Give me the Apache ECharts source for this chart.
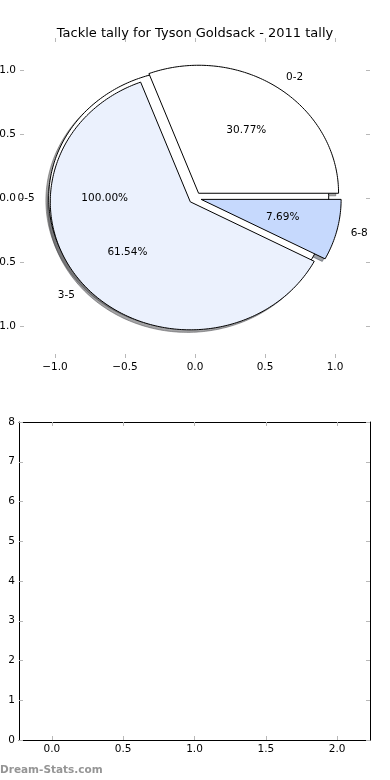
<!DOCTYPE html>
<html>
<head>
<meta charset="utf-8">
<script src="https://cdn.jsdelivr.net/npm/echarts@6/dist/echarts.min.js"></script>
<style>
html,body{margin:0;padding:0;background:#fff;}
#c{width:390px;height:780px;}
</style>
</head>
<body>
<div id="c"></div>
<script>
const chartTitle = 'Tackle tally for Tyson Goldsack - 2011 tally';
const watermark = 'Dream-Stats.com';
// first (background) pie: one wedge
const outerLabels = ['0-5'];
const outerValues = [13];
const outerColors = ['#ffffff'];
// second pie drawn on top
const categories = ['0-2', '3-5', '6-8'];
const values = [4, 8, 1];
const sliceColors = ['#ffffff', '#ebf1fd', '#c6d9fd'];
// axis ticks
const pieTicks = [-1, -0.5, 0, 0.5, 1];
const barXTicks = [0, 0.5, 1, 1.5, 2];
const barYTicks = [0, 1, 2, 3, 4, 5, 6, 7, 8];

const EXPLODE = 0.045, LABEL_DIST = 1.1, PCT_DIST = 0.6, SHADOW = 0.02;
const FONT = 'DejaVu Sans';
const FS = 10.5;
const TICK = '#b8b8b8';

function buildWedges(labels, vals, colors) {
  const total = vals.reduce((a, b) => a + b, 0);
  let t = 0;
  return vals.map((v, i) => {
    const t1 = t, t2 = t + 360 * v / total;
    t = t2;
    return { name: labels[i], t1, t2, pct: v / total, color: colors[i] };
  });
}
const wedges = buildWedges(outerLabels, outerValues, outerColors)
  .concat(buildWedges(categories, values, sliceColors));

function wedgePoints(w, dx, dy) {
  const mid = (w.t1 + w.t2) / 2 * Math.PI / 180;
  const cx = EXPLODE * Math.cos(mid) + dx, cy = EXPLODE * Math.sin(mid) + dy;
  const pts = [];
  const full = (w.t2 - w.t1) >= 359.999;
  if (!full) pts.push([cx, cy]);
  const n = Math.max(6, Math.ceil((w.t2 - w.t1) / 1));
  for (let k = 0; k <= n; k++) {
    const a = (w.t1 + (w.t2 - w.t1) * k / n) * Math.PI / 180;
    pts.push([cx + Math.cos(a), cy + Math.sin(a)]);
  }
  return pts;
}
function shade(hex) {
  const r = parseInt(hex.slice(1, 3), 16), g = parseInt(hex.slice(3, 5), 16), b = parseInt(hex.slice(5, 7), 16);
  return 'rgba(' + Math.round(r * 0.3) + ',' + Math.round(g * 0.3) + ',' + Math.round(b * 0.3) + ',0.5)';
}
const fmt1 = v => (v < 0 ? '\u2212' : '') + Math.abs(v).toFixed(1);

function axisCommon(extra) {
  return Object.assign({
    type: 'value',
    axisLine: { show: false, onZero: false },
    splitLine: { show: false },
    axisTick: { show: true, inside: true, length: 4, lineStyle: { color: TICK, width: 1 } },
    axisLabel: { show: true, fontFamily: FONT, fontSize: FS, color: '#000', margin: 4 }
  }, extra);
}
const lab = (extra) => Object.assign({ fontFamily: FONT, fontSize: FS, color: '#000', margin: 4 }, extra);

const chart = echarts.init(document.getElementById('c'), null, { renderer: 'canvas' });
chart.setOption({
  animation: false,
  backgroundColor: '#fff',
  title: {
    text: chartTitle, left: 'center', top: 22,
    textStyle: { fontFamily: FONT, fontSize: 13, fontWeight: 'normal', color: '#000' }
  },
  graphic: [{
    type: 'text', left: 0, top: 765,
    style: { text: watermark, fontFamily: FONT, fontSize: 10.5, fontWeight: 'bold', fill: '#959595' }
  }],
  grid: [
    { left: 20, top: 38, width: 350, height: 320, outerBoundsMode: 'none', containLabel: false },
    { left: 19, top: 422, width: 351, height: 318, outerBoundsMode: 'none', containLabel: false }
  ],
  xAxis: [
    axisCommon({ gridIndex: 0, position: 'bottom', min: -1.25, max: 1.25,
      axisTick: { show: true, inside: true, length: 4, customValues: pieTicks, lineStyle: { color: TICK } },
      axisLabel: lab({ customValues: pieTicks, formatter: fmt1 }) }),
    axisCommon({ gridIndex: 0, position: 'top', min: -1.25, max: 1.25,
      axisTick: { show: true, inside: true, length: 4, customValues: pieTicks, lineStyle: { color: TICK } },
      axisLabel: { show: false } }),
    axisCommon({ gridIndex: 1, position: 'bottom', min: -0.23, max: 2.23,
      axisLine: { show: true, onZero: false, lineStyle: { color: '#000', width: 1 } },
      axisTick: { show: true, inside: true, length: 4, customValues: barXTicks, lineStyle: { color: TICK } },
      axisLabel: lab({ customValues: barXTicks, formatter: fmt1 }) }),
    axisCommon({ gridIndex: 1, position: 'top', min: -0.23, max: 2.23,
      axisLine: { show: true, onZero: false, lineStyle: { color: '#000', width: 1 } },
      axisTick: { show: true, inside: true, length: 4, customValues: barXTicks, lineStyle: { color: TICK } },
      axisLabel: { show: false } })
  ],
  yAxis: [
    axisCommon({ gridIndex: 0, position: 'left', min: -1.25, max: 1.25,
      axisTick: { show: true, inside: true, length: 4, customValues: pieTicks, lineStyle: { color: TICK } },
      axisLabel: lab({ customValues: pieTicks, formatter: fmt1 }) }),
    axisCommon({ gridIndex: 0, position: 'right', min: -1.25, max: 1.25,
      axisTick: { show: true, inside: true, length: 4, customValues: pieTicks, lineStyle: { color: TICK } },
      axisLabel: { show: false } }),
    axisCommon({ gridIndex: 1, position: 'left', min: 0, max: 8, interval: 1,
      axisLine: { show: true, onZero: false, lineStyle: { color: '#000', width: 1 } },
      axisTick: { show: true, inside: true, length: 4, customValues: barYTicks, lineStyle: { color: TICK } },
      axisLabel: lab({ customValues: barYTicks, formatter: v => String(v) }) }),
    axisCommon({ gridIndex: 1, position: 'right', min: 0, max: 8, interval: 1,
      axisLine: { show: true, onZero: false, lineStyle: { color: '#000', width: 1 } },
      axisTick: { show: true, inside: true, length: 4, customValues: barYTicks, lineStyle: { color: TICK } },
      axisLabel: { show: false } })
  ],
  series: [
    {
      type: 'custom', name: 'shadows', xAxisIndex: 0, yAxisIndex: 0, z: 1, clip: false, silent: true,
      data: wedges.map((w, i) => [i]),
      renderItem: function (params, api) {
        const w = wedges[params.dataIndex];
        const pts = wedgePoints(w, -SHADOW, -SHADOW).map(p => api.coord(p));
        return { type: 'polygon', shape: { points: pts },
          style: { fill: shade(w.color), stroke: shade(w.color), lineWidth: 1 } };
      }
    },
    {
      type: 'custom', name: 'wedges', xAxisIndex: 0, yAxisIndex: 0, z: 2, clip: false, silent: true,
      data: wedges.map((w, i) => [i]),
      renderItem: function (params, api) {
        const w = wedges[params.dataIndex];
        const pts = wedgePoints(w, 0, 0).map(p => api.coord(p));
        return { type: 'polygon', shape: { points: pts },
          style: { fill: w.color, stroke: '#000', lineWidth: 1, lineJoin: 'miter' } };
      }
    },
    {
      type: 'custom', name: 'labels', xAxisIndex: 0, yAxisIndex: 0, z: 3, clip: false, silent: true,
      data: wedges.map((w, i) => [i]),
      renderItem: function (params, api) {
        const w = wedges[params.dataIndex];
        const mid = (w.t1 + w.t2) / 2 * Math.PI / 180;
        const cx = EXPLODE * Math.cos(mid), cy = EXPLODE * Math.sin(mid);
        const lx = cx + LABEL_DIST * Math.cos(mid), ly = cy + LABEL_DIST * Math.sin(mid);
        const px = cx + PCT_DIST * Math.cos(mid), py = cy + PCT_DIST * Math.sin(mid);
        const lp = api.coord([lx, ly]), pp = api.coord([px, py]);
        return { type: 'group', children: [
          { type: 'text', x: lp[0], y: lp[1], style: { text: w.name, fontFamily: FONT, fontSize: FS, fill: '#000',
            align: lx > 0 ? 'left' : 'right', verticalAlign: 'middle' } },
          { type: 'text', x: pp[0], y: pp[1], style: { text: (w.pct * 100).toFixed(2) + '%', fontFamily: FONT, fontSize: FS, fill: '#000',
            align: 'center', verticalAlign: 'middle' } }
        ] };
      }
    },
    { type: 'scatter', xAxisIndex: 2, yAxisIndex: 2, data: [] }
  ]
});
</script>
</body>
</html>
